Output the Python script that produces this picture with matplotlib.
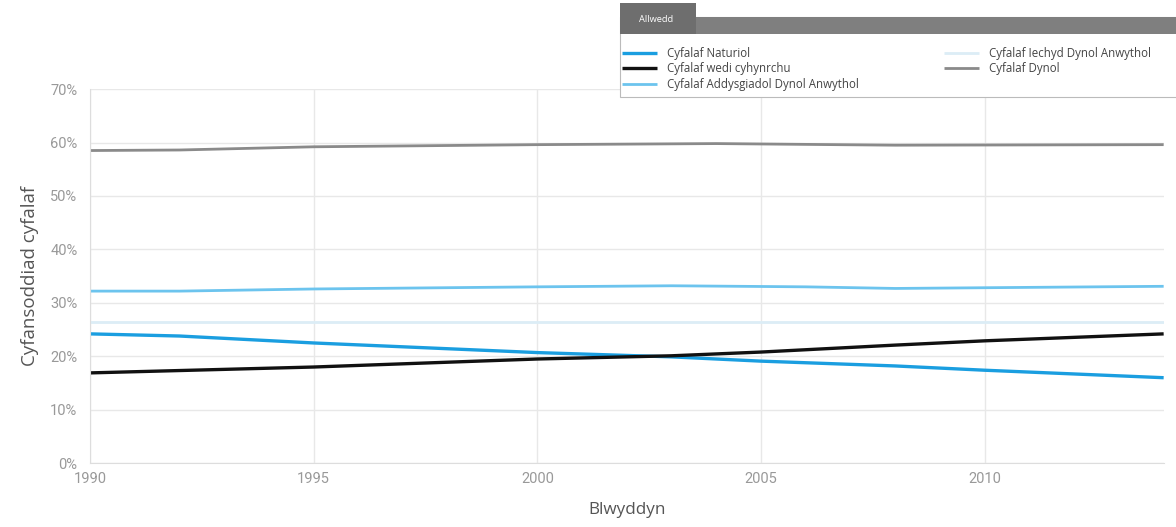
import matplotlib.pyplot as plt
from matplotlib.patches import Rectangle
from matplotlib.ticker import FuncFormatter

# Data (percent of total capital)
years_naturiol = [1990, 1992, 1995, 2000, 2003, 2005, 2008, 2010, 2014]
naturiol = [24.2, 23.8, 22.5, 20.7, 19.9, 19.1, 18.2, 17.4, 16.0]

years_wedi = [1990, 1995, 2000, 2003, 2005, 2008, 2010, 2014]
wedi_cyhynrchu = [16.9, 18.0, 19.5, 20.1, 20.8, 22.1, 22.9, 24.2]

years_addysg = [1990, 1992, 1995, 2000, 2003, 2006, 2008, 2014]
addysgiadol = [32.2, 32.2, 32.6, 33.0, 33.2, 33.0, 32.7, 33.1]

years_iechyd = [1990, 2014]
iechyd = [26.5, 26.5]

years_dynol = [1990, 1992, 1995, 2000, 2004, 2008, 2014]
dynol = [58.5, 58.6, 59.2, 59.6, 59.8, 59.5, 59.6]

labels = ['Cyfalaf Naturiol', 'Cyfalaf wedi cyhynrchu',
          'Cyfalaf Addysgiadol Dynol Anwythol',
          'Cyfalaf Iechyd Dynol Anwythol', 'Cyfalaf Dynol']
colors = ['#1a9ee0', '#111111', '#6cc4ee', '#dcedf6', '#8a8a8a']

x_ticks = [1990, 1995, 2000, 2005, 2010]
y_ticks = [0, 10, 20, 30, 40, 50, 60, 70]

plt.rcParams['font.family'] = ['Open Sans', 'DejaVu Sans']

fig = plt.figure(figsize=(11.76, 5.27), dpi=100)
ax = fig.add_axes([0.0765, 0.121, 0.913, 0.710])

series = [(years_naturiol, naturiol), (years_wedi, wedi_cyhynrchu),
          (years_addysg, addysgiadol), (years_iechyd, iechyd),
          (years_dynol, dynol)]
widths = [2.4, 2.4, 2.0, 2.0, 2.0]
handles = []
for (xs, ys), lab, c, w in zip(series, labels, colors, widths):
    h, = ax.plot(xs, ys, color=c, lw=w, label=lab, solid_capstyle='butt')
    handles.append(h)

ax.set_xlim(1990, 2014)
ax.set_ylim(0, 70)
ax.set_xticks(x_ticks)
ax.set_yticks(y_ticks)
ax.yaxis.set_major_formatter(FuncFormatter(lambda v, p: f'{int(v)}%'))
ax.grid(True, color='#e8e8e8', lw=1)
ax.set_axisbelow(True)
for s in ['top', 'right']:
    ax.spines[s].set_visible(False)
for s in ['left', 'bottom']:
    ax.spines[s].set_color('#dddddd')
ax.tick_params(length=0, labelsize=10.5, labelcolor='#999999', pad=6)
ax.tick_params(axis='y', pad=9)
for t in ax.get_xticklabels() + ax.get_yticklabels():
    t.set_family(['Roboto', 'DejaVu Sans'])
ax.set_xlabel('Blwyddyn', fontsize=12.3, color='#555555', labelpad=12)
ax.set_ylabel('Cyfansoddiad cyfalaf', fontsize=13.5, color='#555555', labelpad=8)

# legend box ("Allwedd") at the top right
fig.patches.append(Rectangle((620 / 1176, 1 - 97 / 527), 560 / 1176, 80 / 527,
                             transform=fig.transFigure, facecolor='white',
                             edgecolor='#bbbbbb', lw=0.8, zorder=5))
fig.patches.append(Rectangle((620 / 1176, 1 - 34 / 527), 560 / 1176, 17 / 527,
                             transform=fig.transFigure, facecolor='#7f7f7f',
                             edgecolor='none', zorder=6))
fig.patches.append(Rectangle((620 / 1176, 1 - 34 / 527), 76 / 1176, 31 / 527,
                             transform=fig.transFigure, facecolor='#6e6e6e',
                             edgecolor='none', zorder=7))
fig.text(639 / 1176, 1 - 19 / 527, 'Allwedd', color='white', fontsize=6.7,
         va='center', ha='left', zorder=8)

leg = fig.legend(handles=handles, loc='upper left', ncol=2,
                 bbox_to_anchor=(614 / 1176, 1 - 39 / 527), frameon=False,
                 fontsize=8.3, handlelength=3.0, handletextpad=0.9,
                 columnspacing=7.4, labelspacing=0.2, borderpad=0.2)
leg.set_zorder(9)
for t in leg.get_texts():
    t.set_color('#444444')

fig.savefig('out.png', dpi=100, facecolor='white')
